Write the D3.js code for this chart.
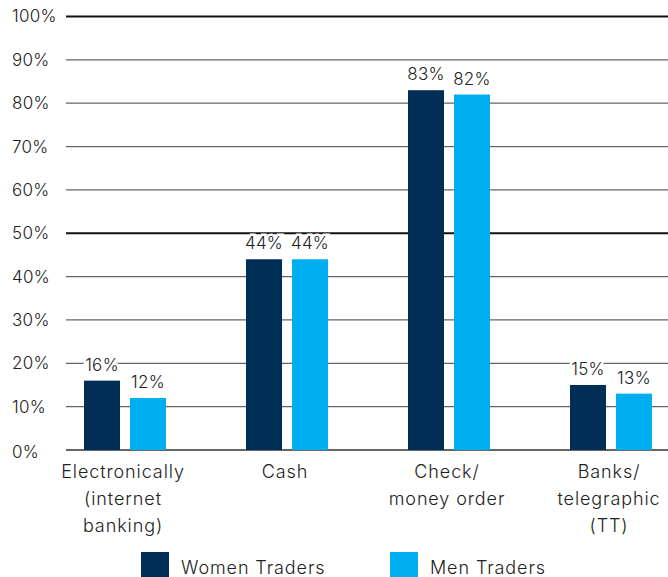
<!DOCTYPE html>
<meta charset="utf-8">
<title>Payment methods</title>
<script src="https://d3js.org/d3.v7.min.js"></script>
<style>
  body { margin: 0; background: #fff; }
  text { font-family: Inter, "Noto Sans", sans-serif; fill: #222; font-weight: 300; }
</style>
<div id="chart"></div>
<script>
  const categories = [["Electronically", "(internet", "banking)"], ["Cash"], ["Check/", "money order"], ["Banks/", "telegraphic", "(TT)"]];
  const women = [16, 44, 83, 15];
  const men = [12, 44, 82, 13];
  const series = ["Women Traders", "Men Traders"];
  const colors = ["#002e56", "#00aeef"];
  const yTicks = [0, 10, 20, 30, 40, 50, 60, 70, 80, 90, 100];

  const W = 668, H = 577;
  const gridLeft = 66, gridRight = 668;

  const svg = d3.select("#chart").append("svg")
    .attr("width", W).attr("height", H);

  const y = d3.scaleLinear().domain([0, 100]).range([450, 16.5]);

  const x = d3.scaleBand()
    .domain(d3.range(categories.length))
    .range([44, 692]);

  const inner = d3.scaleBand()
    .domain([0, 1])
    .range([0, 82])
    .paddingInner(10 / 46);

  // gridlines
  svg.append("g").selectAll("line")
    .data(yTicks)
    .join("line")
    .attr("x1", gridLeft).attr("x2", gridRight)
    .attr("y1", d => y(d)).attr("y2", d => y(d))
    .attr("stroke", d => (d === 100 || d === 50) ? "#111" : (d === 0 ? "#333" : "#666"))
    .attr("stroke-width", d => (d === 100 || d === 50) ? 2 : (d === 0 ? 1.6 : 1.2));

  svg.append("g").selectAll("text")
    .data(yTicks)
    .join("text")
    .attr("x", 12)
    .attr("y", d => y(d) + (d === 0 ? 2 : 0))
    .attr("dy", "0.35em")
    .style("font-size", "17px")
    .style("letter-spacing", "0.3px")
    .text(d => d + "%");

  const groups = svg.append("g").selectAll("g")
    .data(categories.map((c, i) => ({ i, vals: [women[i], men[i]] })))
    .join("g")
    .attr("transform", d => `translate(${x(d.i) + x.bandwidth() / 2 - 41},0)`);

  groups.selectAll("rect")
    .data(d => d.vals.map((v, s) => ({ v, s })))
    .join("rect")
    .attr("x", d => inner(d.s))
    .attr("width", inner.bandwidth())
    .attr("y", d => y(d.v))
    .attr("height", d => y(0) - y(d.v))
    .attr("fill", d => colors[d.s]);

  groups.selectAll("text.val")
    .data(d => d.vals.map((v, s) => ({ v, s })))
    .join("text")
    .attr("class", "val")
    .attr("x", d => inner(d.s) + inner.bandwidth() / 2)
    .attr("y", d => y(d.v) - 10)
    .attr("text-anchor", "middle")
    .style("font-size", "17px")
    .style("letter-spacing", "0.3px")
    .style("paint-order", "stroke")
    .attr("stroke", "#fff")
    .attr("stroke-width", 5)
    .text(d => d.v + "%");

  // category labels
  const cat = svg.append("g").selectAll("text")
    .data(categories)
    .join("text")
    .attr("text-anchor", "middle")
    .attr("transform", (d, i) => `translate(${x(i) + x.bandwidth() / 2 - 2},478)`)
    .style("font-size", "18px")
    .style("letter-spacing", "0.9px");
  cat.selectAll("tspan")
    .data(d => d)
    .join("tspan")
    .attr("x", 0)
    .attr("y", (d, j) => j * 27)
    .text(d => d);

  // legend
  const legX = [141, 390];
  const leg = svg.append("g").selectAll("g")
    .data(series)
    .join("g")
    .attr("transform", (d, i) => `translate(${legX[i]},552)`);
  leg.append("rect")
    .attr("width", 28).attr("height", 25)
    .attr("fill", (d, i) => colors[i]);
  leg.append("text")
    .attr("x", 40).attr("y", 22)
    .style("font-size", "18px")
    .style("letter-spacing", "0.9px")
    .text(d => d);
</script>
